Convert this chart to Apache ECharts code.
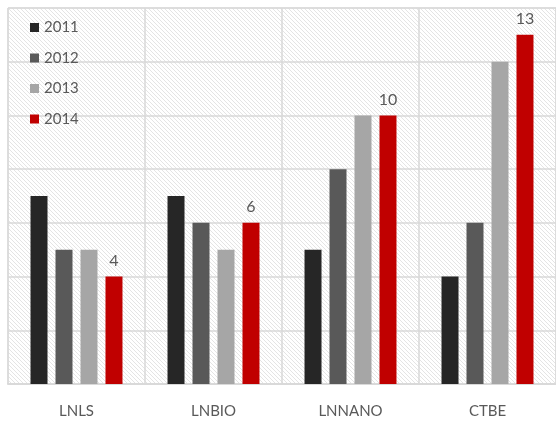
<!DOCTYPE html>
<html><head><meta charset="utf-8">
<script src="https://cdn.jsdelivr.net/npm/echarts@6/dist/echarts.min.js"></script>
<style>html,body{margin:0;padding:0;background:#fff}#c{width:556px;height:423px}</style>
</head><body><div id="c"></div>
<script>
var categories = ['LNLS', 'LNBIO', 'LNNANO', 'CTBE'];
var seriesNames = ['2011', '2012', '2013', '2014'];
var v2011 = [7, 7, 5, 4];
var v2012 = [5, 6, 8, 6];
var v2013 = [5, 5, 10, 12];
var v2014 = [4, 6, 10, 13];
var colors = ['#262626', '#595959', '#a6a6a6', '#c00000'];

var pc = document.createElement('canvas');
pc.width = 4; pc.height = 4;
var g = pc.getContext('2d');
g.fillStyle = '#ffffff'; g.fillRect(0, 0, 4, 4);
g.strokeStyle = '#e4e4e4'; g.lineWidth = 1;
g.beginPath(); g.moveTo(-1, -1); g.lineTo(5, 5); g.stroke();
g.beginPath(); g.moveTo(-1, 3); g.lineTo(1, 5); g.stroke();
g.beginPath(); g.moveTo(3, -1); g.lineTo(5, 1); g.stroke();

var font = 'Lato, "Open Sans", sans-serif';
var data = [v2011, v2012, v2013, v2014];
var chart = echarts.init(document.getElementById('c'));
chart.setOption({
  animation: false,
  textStyle: {fontFamily: font},
  grid: {left: 8, top: 8, width: 552, bottom: 39, show: true,
    backgroundColor: {image: pc, repeat: 'repeat'}, borderColor: '#d9d9d9', borderWidth: 1},
  legend: {orient: 'vertical', left: 25, top: 15, itemWidth: 9, itemHeight: 9, itemGap: 15.5, itemStyle: {borderWidth: 0},
    icon: 'rect', textStyle: {fontSize: 15, color: '#595959', fontFamily: font},
    data: seriesNames},
  xAxis: {type: 'category', data: categories,
    axisLine: {lineStyle: {color: '#d9d9d9', width: 2}}, axisTick: {show: false},
    axisLabel: {fontSize: 15, color: '#595959', margin: 20},
    splitLine: {show: true, lineStyle: {color: '#d9d9d9', width: 1.5}}},
  yAxis: {type: 'value', min: 0, max: 14, interval: 2,
    axisLabel: {show: false}, axisLine: {show: false}, axisTick: {show: false},
    splitLine: {lineStyle: {color: '#d9d9d9', width: 1.5}}},
  series: seriesNames.map(function (n, i) {
    return {name: n, type: 'bar', data: data[i], barWidth: 17, barGap: '47%',
      itemStyle: {color: colors[i]},
      label: i === 3 ? {show: true, position: 'top', distance: 8, fontSize: 16, color: '#595959'} : {show: false}};
  })
});
</script></body></html>
